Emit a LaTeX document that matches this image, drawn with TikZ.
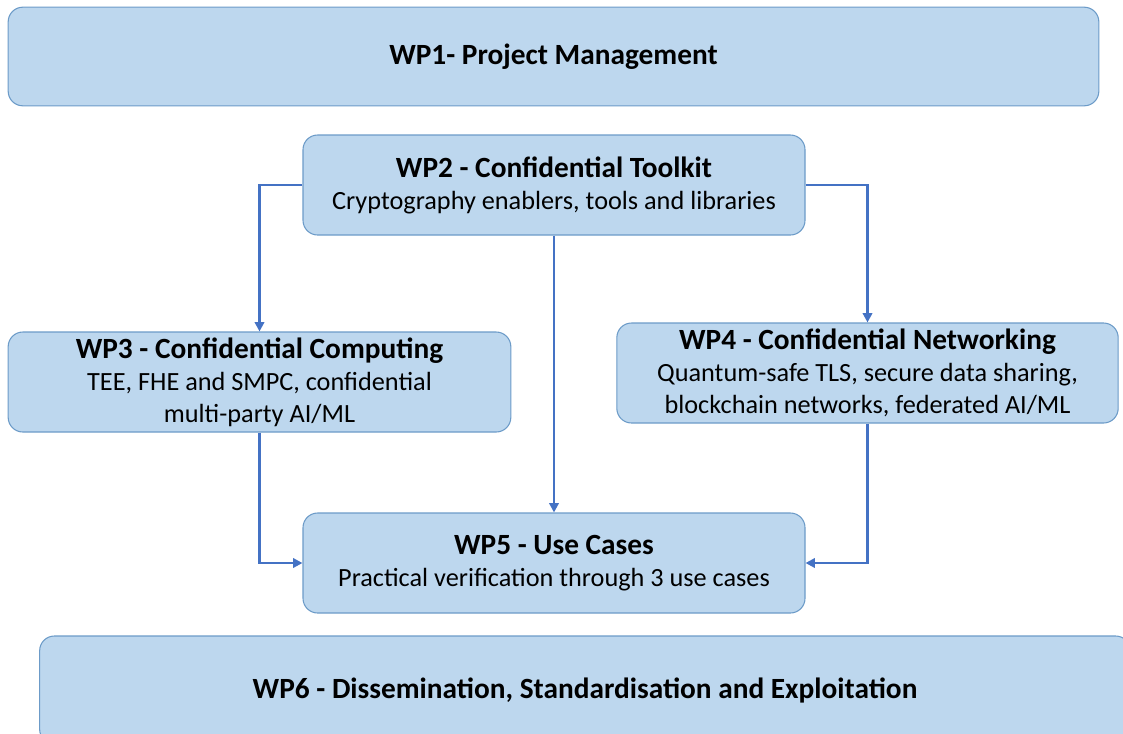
\documentclass[tikz,border=0pt]{standalone}
\usepackage{fontspec}
\setmainfont{Carlito}
\usepackage{xcolor}
\usepackage{tikz}
\usetikzlibrary{arrows.meta,positioning}

\tikzset{
  wpbox/.style={draw=wpline,fill=wpfill,line width=0.8pt,rounded corners=11pt,
    align=center,inner sep=0pt,font=\fontsize{19.7}{24}\selectfont},
  flow/.style={draw=flowcol,line width=2.1pt,-{Triangle[length=7pt,width=7pt]}}
}
\newcommand{\wptitle}[1]{{\fontsize{22}{25}\selectfont\bfseries #1}}

\begin{document}
\begin{tikzpicture}[x=0.75pt,y=-0.75pt]
\definecolor{wpfill}{HTML}{BDD7EE}
\definecolor{wpline}{HTML}{6C9BC8}
\definecolor{flowcol}{HTML}{4472C4}

\clip (0,0) rectangle (1123,733);

\node[wpbox,minimum width=818pt,minimum height=74pt] (wp1) at (553.5,56.5)
  {\wptitle{WP1- Project Management}};
\node[wpbox,minimum width=376.5pt,minimum height=75pt] (wp2) at (554,185)
  {\wptitle{WP2 - Confidential Toolkit}\\Cryptography enablers, tools and libraries};
\node[wpbox,minimum width=377pt,minimum height=75pt] (wp3) at (259.5,382)
  {\wptitle{WP3 - Confidential Computing}\\TEE, FHE and SMPC, confidential\\multi-party AI/ML};
\node[wpbox,minimum width=376pt,minimum height=75pt] (wp4) at (867.5,373)
  {\wptitle{WP4 - Confidential Networking}\\Quantum-safe TLS, secure data sharing,\\blockchain networks, federated AI/ML};
\node[wpbox,minimum width=376.5pt,minimum height=75pt] (wp5) at (554,563)
  {\wptitle{WP5 - Use Cases}\\Practical verification through 3 use cases};
\node[wpbox,minimum width=818pt,minimum height=81pt] (wp6) at (585,690)
  {\wptitle{WP6 - Dissemination, Standardisation and Exploitation}};

% toolkit feeds the other work packages
\draw[flow] (wp2.west) -| (wp3.north);
\draw[flow] (wp2.east) -| (wp4.north);
\draw[flow] (wp2.south) -- (wp5.north);
\draw[flow] (wp3.south) |- (wp5.west);
\draw[flow] (wp4.south) |- (wp5.east);
\end{tikzpicture}
\end{document}
